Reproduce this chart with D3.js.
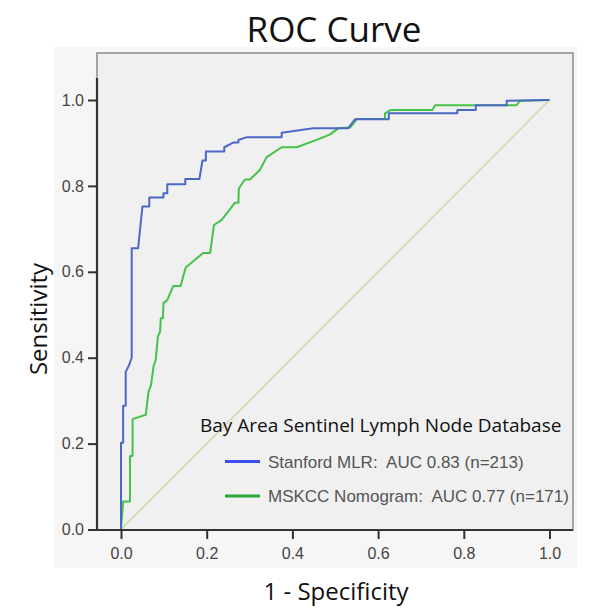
<!DOCTYPE html>
<html><head><meta charset="utf-8">
<script src="https://cdn.jsdelivr.net/npm/d3@7"></script>
<style>html,body{margin:0;padding:0;background:#fff;}svg{display:block;}text{white-space:pre;}</style>
</head><body>
<script>
const stanfordFPR = [0,0,0.005,0.005,0.011,0.011,0.019,0.025,0.025,0.040,0.050,0.066,0.066,0.099,0.099,0.108,0.108,0.150,0.150,0.183,0.190,0.198,0.198,0.241,0.241,0.262,0.274,0.274,0.292,0.375,0.375,0.449,0.530,0.546,0.625,0.625,0.785,0.785,0.828,0.828,0.900,0.900,1.0];
const stanfordTPR = [0,0.202,0.202,0.288,0.288,0.367,0.383,0.40,0.655,0.655,0.752,0.752,0.773,0.773,0.783,0.783,0.804,0.804,0.816,0.816,0.859,0.859,0.880,0.880,0.890,0.901,0.901,0.907,0.913,0.913,0.924,0.934,0.934,0.955,0.955,0.969,0.969,0.977,0.977,0.988,0.988,0.998,1.0];
const mskccFPR = [0,0.005,0.021,0.021,0.027,0.027,0.058,0.064,0.070,0.076,0.081,0.086,0.091,0.093,0.098,0.099,0.108,0.122,0.139,0.151,0.192,0.208,0.217,0.235,0.266,0.274,0.275,0.289,0.301,0.324,0.340,0.375,0.410,0.461,0.488,0.507,0.535,0.551,0.616,0.616,0.630,0.727,0.733,0.923,0.931,1.0];
const mskccTPR = [0,0.065,0.065,0.171,0.171,0.257,0.267,0.320,0.336,0.380,0.395,0.449,0.460,0.492,0.492,0.527,0.534,0.567,0.567,0.610,0.644,0.644,0.709,0.721,0.761,0.761,0.794,0.815,0.815,0.837,0.867,0.890,0.890,0.909,0.920,0.934,0.936,0.956,0.956,0.969,0.977,0.977,0.988,0.988,0.998,1.0];
const xTicks = [0,0.2,0.4,0.6,0.8,1.0];
const yTicks = [0,0.2,0.4,0.6,0.8,1.0];
const legendTitle = "Bay Area Sentinel Lymph Node Database";
const legendLabels = ["Stanford MLR:  AUC 0.83 (n=213)", "MSKCC Nomogram:  AUC 0.77 (n=171)"];

const W = 600, H = 614;
const svg = d3.select("body").append("svg").attr("width", W).attr("height", H);

const x = d3.scaleLinear().domain([0,1]).range([121, 549.5]);
const y = d3.scaleLinear().domain([0,1]).range([529.5, 100]);

// outer panel
svg.append("rect").attr("x",54).attr("y",47).attr("width",523).attr("height",521).attr("fill","#f6f6f6");
// plot box
svg.append("rect").attr("x",97).attr("y",53).attr("width",476).attr("height",477)
  .attr("fill","#f0f0f0").attr("stroke","#8a8a8a").attr("stroke-width",1.5);

// diagonal
svg.append("line").attr("x1",x(0)).attr("y1",y(0)).attr("x2",x(1)).attr("y2",y(1))
  .attr("stroke","#d6d6a6").attr("stroke-width",1.6);

const line = d3.line().x(d=>x(d[0])).y(d=>y(d[1]));
const sData = stanfordFPR.map((v,i)=>[v, stanfordTPR[i]]);
const mData = mskccFPR.map((v,i)=>[v, mskccTPR[i]]);
svg.append("path").datum(mData).attr("d",line).attr("fill","none")
  .attr("stroke","#45c24a").attr("stroke-width",2).attr("stroke-linejoin","round");
svg.append("path").datum(sData).attr("d",line).attr("fill","none")
  .attr("stroke","#4c68c6").attr("stroke-width",2).attr("stroke-linejoin","round");

// axes
const yAxis = d3.axisLeft(y).tickValues(yTicks).tickFormat(d3.format(".1f")).tickSize(9).tickPadding(4);
const gy = svg.append("g").attr("transform","translate(97,0)").call(yAxis);
gy.select(".domain").remove();
gy.append("line").attr("x1",0).attr("x2",0).attr("y1",78).attr("y2",530).attr("stroke","#333").attr("stroke-width",2.2);
const xAxis = d3.axisBottom(x).tickValues(xTicks).tickFormat(d3.format(".1f")).tickSize(9).tickPadding(9);
const gx = svg.append("g").attr("transform","translate(0,530)").call(xAxis);
gx.select(".domain").remove();
gx.append("line").attr("x1",96).attr("x2",573).attr("y1",0).attr("y2",0).attr("stroke","#333").attr("stroke-width",2.2);
[gx, gy].forEach(g=>{
  g.selectAll(".tick line").attr("stroke","#333").attr("stroke-width",2);
  g.selectAll(".tick text").attr("fill","#444").style("font-family","'Liberation Sans', Arial, sans-serif").style("font-size","16px");
});

// titles
svg.append("text").attr("x",334).attr("y",42).attr("text-anchor","middle")
  .style("font-family","'Open Sans', sans-serif").style("font-size","35px").attr("fill","#111").text("ROC Curve");
svg.append("text").attr("transform","translate(47,319) rotate(-90)").attr("text-anchor","middle")
  .style("font-family","'Open Sans', sans-serif").style("font-size","24px").attr("fill","#111").text("Sensitivity");
svg.append("text").attr("x",336).attr("y",600).attr("text-anchor","middle")
  .style("font-family","'Open Sans', sans-serif").style("font-size","24px").attr("fill","#111").text("1 - Specificity");

// legend
svg.append("text").attr("x",200).attr("y",432)
  .style("font-family","'Open Sans', sans-serif").style("font-size","19px").attr("fill","#111").text(legendTitle);
const legColors = ["#3b4ff0", "#25a838"];
const legY = [461.5, 496];
legendLabels.forEach((t,i)=>{
  svg.append("line").attr("x1",225).attr("x2",260).attr("y1",legY[i]).attr("y2",legY[i])
    .attr("stroke",legColors[i]).attr("stroke-width",3);
  svg.append("text").attr("x",268).attr("y",legY[i]+6)
    .style("font-family","'Liberation Sans', Arial, sans-serif").style("font-size","17px").attr("fill","#555").text(t);
});
</script>
</body></html>
